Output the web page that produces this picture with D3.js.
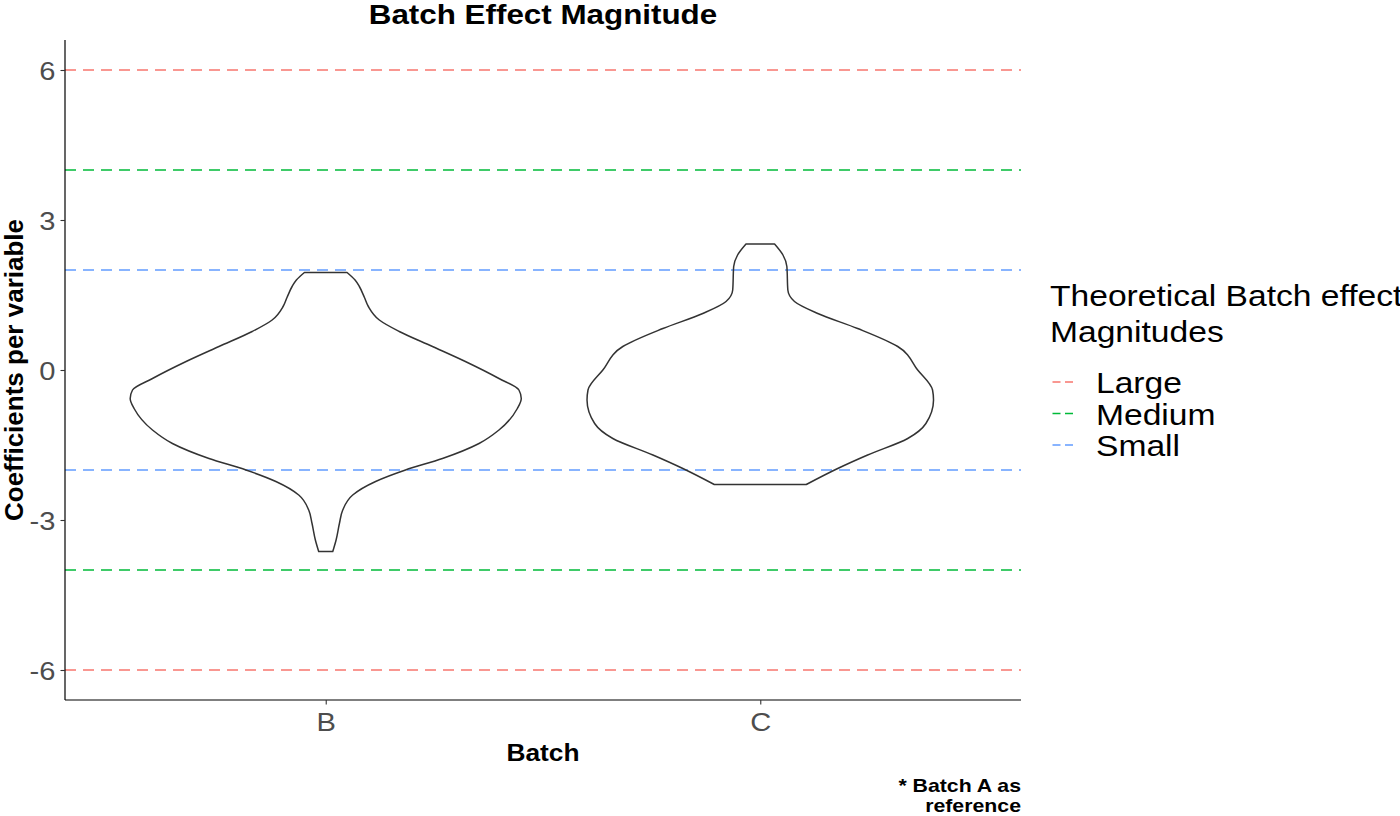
<!DOCTYPE html>
<html>
<head>
<meta charset="utf-8">
<script src="https://cdn.jsdelivr.net/npm/d3@7"></script>
<style>
  html, body { margin: 0; padding: 0; background: #fff; }
  svg { display: block; font-family: "Liberation Sans", Arial, Helvetica, sans-serif; }
</style>
</head>
<body>
<svg id="chart" width="1400" height="816"></svg>
<script>
// ---- data ----
const batches = ["B", "C"];
const yTicks = [-6, -3, 0, 3, 6];
const magnitudeNames = ["Large", "Medium", "Small"];
const magnitudeValues = [6, 4, 2];
const magnitudeColors = ["#F8766D", "#00BA38", "#619CFF"];

// violin outlines: coefficient value and relative density (half-width)
const violinBValues  = [1.95, 1.80, 1.67, 1.45, 1.27, 1.0, 0.77, 0.47, 0.17, -0.17, -0.4, -0.57, -0.77, -1.2, -1.47, -1.77, -2.0, -2.23, -2.5, -2.8, -3.07, -3.4, -3.63];
const violinBDensity = [0.109, 0.150, 0.172, 0.198, 0.218, 0.274, 0.376, 0.546, 0.714, 0.886, 0.988, 1.0, 0.98, 0.886, 0.784, 0.597, 0.408, 0.255, 0.138, 0.087, 0.070, 0.053, 0.036];
const violinCValues  = [2.52, 2.3, 2.07, 1.6, 1.37, 1.13, 0.83, 0.47, 0.0, -0.4, -0.6, -1.07, -1.37, -1.7, -1.97, -2.29];
const violinCDensity = [0.073, 0.116, 0.136, 0.141, 0.175, 0.294, 0.498, 0.703, 0.805, 0.881, 0.886, 0.847, 0.754, 0.549, 0.396, 0.235];

const violins = [
  { batch: "B", values: violinBValues, density: violinBDensity },
  { batch: "C", values: violinCValues, density: violinCDensity }
];

// ---- layout ----
const svg = d3.select("#chart");
const pLeft = 65, pRight = 1021, pTop = 40, pBottom = 700;
const STRETCH = 1.12;

function stretch(sel) {
  sel.each(function () {
    const len = this.getComputedTextLength();
    d3.select(this).attr("textLength", len * STRETCH).attr("lengthAdjust", "spacingAndGlyphs");
  });
}

const x = d3.scalePoint().domain(batches).range([pLeft, pRight]).padding(0.6);
const y = d3.scaleLinear().domain([-6.6, 6.6]).range([pBottom, pTop]);
const w = d3.scaleLinear().domain([0, 1]).range([0, x.step() * 0.45]);

// reference lines
const refLines = [];
magnitudeValues.forEach((v, i) => {
  refLines.push({ v: v, c: magnitudeColors[i] });
  refLines.push({ v: -v, c: magnitudeColors[i] });
});
svg.append("g").selectAll("line").data(refLines).join("line")
  .attr("x1", pLeft).attr("x2", pRight)
  .attr("y1", d => y(d.v)).attr("y2", d => y(d.v))
  .attr("stroke", d => d.c).attr("stroke-width", 1.5)
  .attr("stroke-dasharray", "11,7");

// violins
const area = d3.area()
  .curve(d3.curveMonotoneY)
  .y(d => y(d.v))
  .x0(d => d.cx - w(d.d))
  .x1(d => d.cx + w(d.d));

svg.append("g").selectAll("path").data(violins).join("path")
  .attr("d", vi => area(vi.values.map((v, i) => ({ v: v, d: vi.density[i], cx: x(vi.batch) }))))
  .attr("fill", "none")
  .attr("stroke", "#333333")
  .attr("stroke-width", 1.5)
  .attr("stroke-linejoin", "round");

// axes
const yAxis = svg.append("g").attr("transform", `translate(${pLeft},0)`)
  .call(d3.axisLeft(y).tickValues(yTicks).tickSize(4.5).tickPadding(5).tickFormat(d => String(d)));
const xAxis = svg.append("g").attr("transform", `translate(0,${pBottom})`)
  .call(d3.axisBottom(x).tickSize(4.5).tickPadding(5));
yAxis.select(".domain").attr("d", `M0,${pTop}V${pBottom}`);
xAxis.select(".domain").attr("d", `M${pLeft},0H${pRight}`);
[yAxis, xAxis].forEach(g => {
  g.select(".domain").attr("stroke", "#000").attr("stroke-width", 1.2);
  g.selectAll(".tick line").attr("stroke", "#333").attr("stroke-width", 1.1);
  g.selectAll(".tick text").attr("fill", "#4D4D4D").style("font-size", "26px")
    .style("font-family", "Liberation Sans, Arial, sans-serif");
});
yAxis.selectAll(".tick text").attr("dy", "0.36em");
xAxis.selectAll(".tick text").attr("dy", null).attr("y", 31);
stretch(yAxis.selectAll(".tick text"));
stretch(xAxis.selectAll(".tick text"));

// titles
stretch(svg.append("text").attr("x", (pLeft + pRight) / 2).attr("y", 24)
  .attr("text-anchor", "middle").style("font-size", "28px").style("font-weight", "bold")
  .text("Batch Effect Magnitude"));
stretch(svg.append("text").attr("x", (pLeft + pRight) / 2).attr("y", 761)
  .attr("text-anchor", "middle").style("font-size", "23.5px").style("font-weight", "bold")
  .text("Batch"));
svg.append("text").attr("transform", `translate(23,${(pTop + pBottom) / 2}) rotate(-90)`)
  .attr("text-anchor", "middle").style("font-size", "26px").style("font-weight", "bold")
  .text("Coefficients per variable");
const cap = svg.append("text").attr("text-anchor", "end").style("font-size", "19px").style("font-weight", "bold");
cap.append("tspan").attr("x", pRight).attr("y", 792).text("* Batch A as");
cap.append("tspan").attr("x", pRight).attr("y", 812).text("reference");
stretch(cap.selectAll("tspan"));

// legend
const lg = svg.append("g");
const lt = lg.append("text").style("font-size", "30px").attr("fill", "#000");
lt.append("tspan").attr("x", 1050).attr("y", 306).text("Theoretical Batch effect");
lt.append("tspan").attr("x", 1050).attr("y", 342).text("Magnitudes");
stretch(lt.selectAll("tspan"));
const items = lg.selectAll("g.item").data(magnitudeNames).join("g").attr("class", "item")
  .attr("transform", (d, i) => `translate(1050,${382 + i * 31.5})`);
items.append("line").attr("x1", 2.5).attr("x2", 23.5).attr("y1", 0).attr("y2", 0)
  .attr("stroke", (d, i) => magnitudeColors[i]).attr("stroke-width", 1.5)
  .attr("stroke-dasharray", "8,4.5");
stretch(items.append("text").attr("x", 46).attr("y", 11).style("font-size", "30px").text(d => d));
</script>
</body>
</html>
